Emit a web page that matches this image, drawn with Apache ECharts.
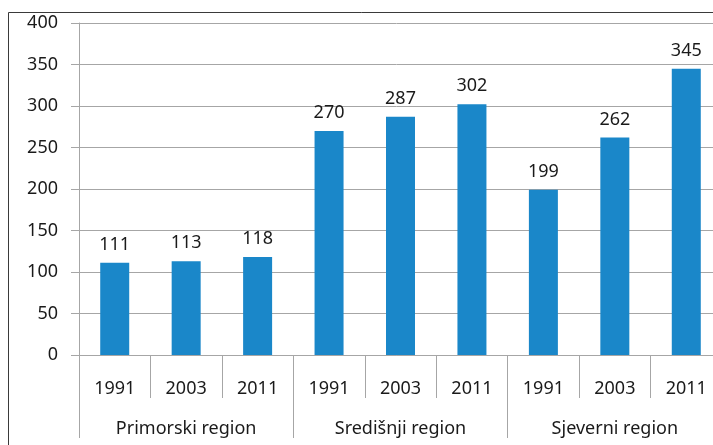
<!DOCTYPE html>
<html>
<meta charset="utf-8" />
<head>
  <script src="https://cdn.jsdelivr.net/npm/echarts@6.0.0/dist/echarts.min.js"></script>
  <style>
    html, body { margin: 0; padding: 0; background: #fff; }
    #chart { width: 713px; height: 445px; }
  </style>
</head>
<body>
  <div id="chart"></div>
  <script>
    // data
    const years = ["1991", "2003", "2011", "1991", "2003", "2011", "1991", "2003", "2011"];
    const regions = ["Primorski region", "Središnji region", "Sjeverni region"];
    const values = [111, 113, 118, 270, 287, 302, 199, 262, 345];

    const font = "Noto Sans";
    const txt = "#1a1a1a";
    const gridColor = "#a6a6a6";

    const myChart = echarts.init(document.getElementById("chart"));
    const option = {
      animation: false,
      textStyle: { fontFamily: font },
      // plot runs past the right edge of the window, like the cropped reference
      grid: { left: 79, top: 23, width: 643, bottom: 90, outerBoundsMode: "none" },
      graphic: [{
        type: "rect",
        shape: { x: 8.5, y: 12.5, width: 800, height: 500 },
        style: { fill: "none", stroke: "#3a3a3a", lineWidth: 1 },
        silent: true
      }],
      xAxis: [
        {
          type: "category",
          data: years,
          axisLine: { lineStyle: { color: gridColor } },
          axisTick: { show: true, interval: 0, length: 43, lineStyle: { color: gridColor } },
          axisLabel: { interval: 0, margin: 25, color: txt, fontSize: 18, fontFamily: font, lineHeight: 18 }
        },
        {
          type: "category",
          data: regions,
          position: "bottom",
          axisLine: { show: false },
          axisTick: { show: true, interval: 0, length: 83, lineStyle: { color: gridColor } },
          axisLabel: { interval: 0, margin: 65, color: txt, fontSize: 18, fontFamily: font, lineHeight: 18 }
        }
      ],
      yAxis: {
        type: "value",
        min: 0,
        max: 400,
        interval: 50,
        axisLine: { show: true, lineStyle: { color: gridColor } },
        axisTick: { show: true, length: 8, lineStyle: { color: gridColor } },
        splitLine: { lineStyle: { color: gridColor } },
        axisLabel: { margin: 21, color: txt, fontSize: 18, fontFamily: font }
      },
      series: [{
        type: "bar",
        xAxisIndex: 0,
        data: values,
        barWidth: 29,
        itemStyle: { color: "#1a87c9" },
        label: { show: true, position: "top", distance: 9, color: txt, fontSize: 18, fontFamily: font }
      }]
    };
    myChart.setOption(option);
  </script>
</body>
</html>
